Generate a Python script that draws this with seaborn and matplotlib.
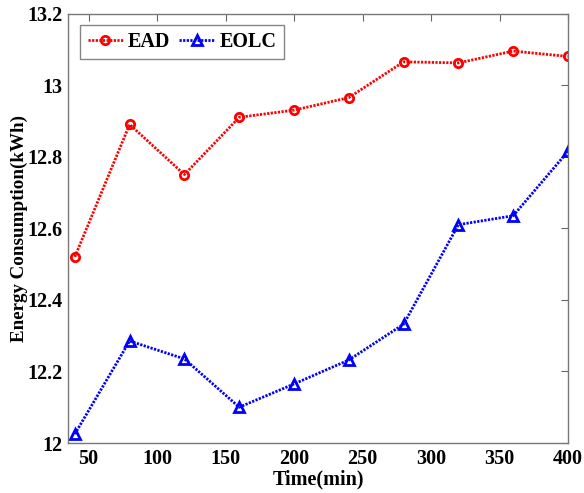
import pandas as pd
import matplotlib
matplotlib.use("Agg")
import matplotlib.pyplot as plt
import seaborn as sns

# data
time_min = [40, 80, 120, 160, 200, 240, 280, 320, 360, 400]
ead = [12.52, 12.89, 12.75, 12.91, 12.93, 12.965, 13.065, 13.062, 13.095, 13.08]
eolc = [12.025, 12.285, 12.235, 12.10, 12.165, 12.232, 12.332, 12.61, 12.635, 12.815]
x_ticks = [50, 100, 150, 200, 250, 300, 350, 400]
y_ticks = [12, 12.2, 12.4, 12.6, 12.8, 13, 13.2]
y_tick_labels = ["12", "12.2", "12.4", "12.6", "12.8", "13", "13.2"]

sns.set_style("white")
plt.rcParams["font.family"] = ["Liberation Serif", "DejaVu Serif"]
plt.rcParams["font.weight"] = "bold"
plt.rcParams["text.color"] = "black"
plt.rcParams["axes.labelcolor"] = "black"
plt.rcParams["xtick.color"] = "black"
plt.rcParams["ytick.color"] = "black"

fig, ax = plt.subplots(figsize=(5.84, 4.93), dpi=100)
fig.subplots_adjust(left=0.1164, right=0.9726, top=0.9726, bottom=0.1014)

dots = (0.8, 0.5)

sns.lineplot(
    x=time_min, y=ead, ax=ax,
    color="#ff0000", linewidth=2, dashes=False,
    marker="o", markersize=6, markerfacecolor="none",
    markeredgecolor="#ff0000", markeredgewidth=2,
    label="EAD"
)

sns.lineplot(
    x=time_min, y=eolc, ax=ax,
    color="#0000ff", linewidth=2, dashes=False,
    marker="^", markersize=6.5, markerfacecolor="none",
    markeredgecolor="#0000ff", markeredgewidth=2,
    label="EOLC"
)

for line in ax.lines:
    line.set_dashes(dots)

ax.set_xlim(35, 400)
ax.set_ylim(12, 13.2)
ax.set_xticks(x_ticks)
ax.set_yticks(y_ticks)
ax.set_yticklabels(y_tick_labels)

ax.tick_params(direction="in", top=True, right=True, length=5,
               labelsize=14.5, color="#666666", pad=4)
for lab in ax.get_xticklabels() + ax.get_yticklabels():
    lab.set_fontweight("bold")

for side in ["top", "bottom", "left", "right"]:
    ax.spines[side].set_color("#777777")
    ax.spines[side].set_linewidth(1)

ax.set_xlabel("Time(min)", fontsize=14.5, fontweight="bold", labelpad=1)
ax.set_ylabel("Energy Consumption(kWh)", fontsize=13.7, fontweight="bold")
ax.yaxis.set_label_coords(-0.08, 0.5)

leg = ax.legend(loc="upper left", ncol=2, fontsize=14.5, frameon=True,
                fancybox=False, edgecolor="#666666", handlelength=1.75,
                columnspacing=0.45, borderpad=0.35, handletextpad=0.25,
                borderaxespad=0, bbox_to_anchor=(0.025, 0.973))
leg.get_frame().set_linewidth(1)
for t in leg.get_texts():
    t.set_fontweight("bold")
for h in leg.legend_handles:
    h.set_dashes(dots)

plt.savefig("out.png", dpi=100)
plt.close()
